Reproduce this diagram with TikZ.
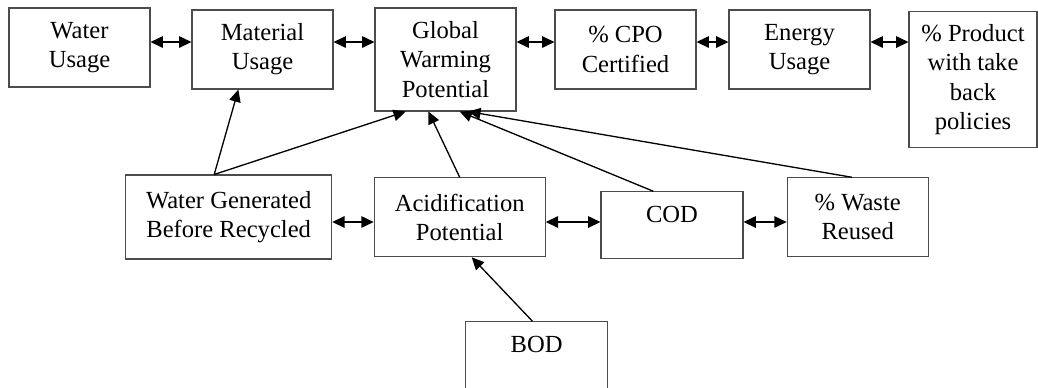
\documentclass[tikz,border=0pt]{standalone}
\usepackage{fontspec}
\setmainfont{Liberation Serif}
\usetikzlibrary{arrows.meta,calc}
\tikzset{
    >={Triangle[length=7pt,width=6.5pt]},
    box/.style={draw=black!70,line width=0.6pt,align=center,inner sep=0pt,font=\fontsize{14}{16.6}\selectfont},
    link/.style={->,line width=0.75pt},
    both/.style={<->,line width=0.75pt}
}

\begin{document}
\begin{tikzpicture}[x=0.02cm,y=-0.02cm]
  \useasboundingbox (0,0) rectangle (1038,387);

  % top row
  \node[box,minimum width=2.82cm,minimum height=1.58cm] (water)    at (79.5,47.5)  {Water\\Usage};
  \node[box,minimum width=2.82cm,minimum height=1.58cm] (material) at (262.5,49.5) {Material\\Usage};
  \node[box,minimum width=2.82cm,minimum height=2.06cm] (gwp)      at (445.5,59.5) {Global\\Warming\\Potential};
  \node[box,minimum width=2.82cm,minimum height=1.58cm] (cpo)      at (625.5,49.5) {\% CPO\\Certified};
  \node[box,minimum width=2.82cm,minimum height=1.58cm] (energy)   at (799.5,49.5) {Energy\\Usage};
  \node[box,minimum width=2.56cm,minimum height=2.72cm] (product)  at (973,79.5)   {\% Product\\with take\\back\\policies};

  % middle row
  \node[box,minimum width=4.12cm,minimum height=1.68cm] (wgbr)  at (228.7,217)   {Water Generated\\Before Recycled};
  \node[box,minimum width=3.42cm,minimum height=1.58cm] (acid)  at (459.7,217.3) {Acidification\\Potential};
  \node[box,minimum width=2.84cm,minimum height=1.34cm] (cod)   at (672,225.3)   {COD\\[-4pt]\mbox{}};
  \node[box,minimum width=2.82cm,minimum height=1.58cm] (waste) at (857.7,217.3) {\% Waste\\Reused};

  % bottom
  \node[box,minimum width=2.84cm,minimum height=1.34cm] (bod) at (536.7,355.2) {BOD\\[-4pt]\mbox{}};

  \coordinate (toprow) at (0,42);
  \coordinate (midrow) at (0,222);

  \draw[both] (water.east |- toprow)    -- (material.west |- toprow);
  \draw[both] (material.east |- toprow) -- (gwp.west |- toprow);
  \draw[both] (gwp.east |- toprow)      -- (cpo.west |- toprow);
  \draw[both] (cpo.east |- toprow)      -- (energy.west |- toprow);
  \draw[both] (energy.east |- toprow)   -- (product.west |- toprow);

  \draw[both] (wgbr.east |- midrow) -- (acid.west |- midrow);
  \draw[both] (acid.east |- midrow) -- (cod.west |- midrow);
  \draw[both] (cod.east |- midrow)  -- (waste.west |- midrow);

  \draw[link] ($(wgbr.north west)!0.43!(wgbr.north east)$) -- ($(material.south west)!0.33!(material.south east)$);
  \draw[link] ($(wgbr.north west)!0.43!(wgbr.north east)$) -- ($(gwp.south west)!0.22!(gwp.south east)$);
  \draw[link] (acid.north) -- ($(gwp.south west)!0.38!(gwp.south east)$);
  \draw[link] ($(cod.north west)!0.37!(cod.north east)$) -- ($(gwp.south west)!0.6!(gwp.south east)$);
  \draw[link] ($(waste.north west)!0.46!(waste.north east)$) -- ($(gwp.south west)!0.66!(gwp.south east)$);
  \draw[link] ($(bod.north west)!0.47!(bod.north east)$) -- ($(acid.south west)!0.57!(acid.south east)$);
\end{tikzpicture}
\end{document}
